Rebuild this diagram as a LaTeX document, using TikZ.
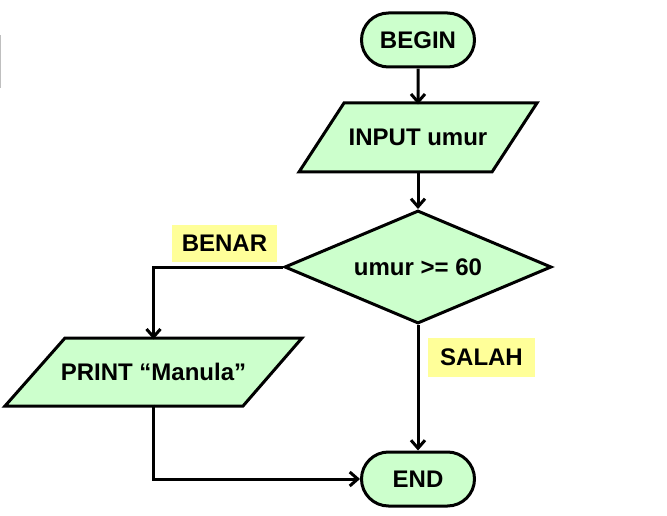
\documentclass[tikz,border=0pt]{standalone}
\usepackage{fontspec}
\setmainfont{Liberation Sans}
\usetikzlibrary{shapes.geometric,shapes.misc,arrows.meta}
\definecolor{boxgreen}{HTML}{CCFFCC}
\definecolor{labelyellow}{HTML}{FFFF99}
\begin{document}
\begin{tikzpicture}[x=1pt,y=-1pt,
  txt/.style={font=\fontsize{24}{26}\selectfont\bfseries,inner sep=0pt},
  base/.style={txt,draw=black,line width=3pt,fill=boxgreen,line join=miter},
  term/.style={base,rounded rectangle,minimum width=113pt,minimum height=54pt},
  ioshape/.style={draw=black,line width=3pt,fill=boxgreen,line join=miter},
  iobox/.style={txt,rectangle},
  decbox/.style={base,diamond,shape aspect=2.36,minimum width=267pt,minimum height=113pt},
  lbl/.style={txt,fill=labelyellow},
  arr/.style={line width=3pt,-{Straight Barb[length=8pt,width=14pt,line width=3pt]}}]
\useasboundingbox (0,0) rectangle (667,516);
\draw[gray!50,line width=1pt] (0.5,35) -- (0.5,88);
% parallelogram outlines
\draw[ioshape] (344,103) -- (537,103) -- (492,172) -- (299,172) -- cycle;
\draw[ioshape] (65,338) -- (302,338) -- (243,406) -- (5,406) -- cycle;
\node[term] (begin) at (418,40) {BEGIN};
\node[iobox,minimum width=193pt,minimum height=69pt] (input) at (418,137.5) {INPUT umur};
\node[decbox] (dec) at (418,267) {umur >= 60};
\node[iobox,minimum width=237pt,minimum height=68pt] (print) at (153.5,372) {PRINT “Manula”};
\node[term] (end) at (418,479) {END};
\node[lbl,minimum width=105pt,minimum height=37pt] (benar) at (224.5,243.5) {BENAR};
\node[lbl,minimum width=107pt,minimum height=39pt] (salah) at (481.5,357.5) {SALAH};
\draw[arr] (begin) -- ([yshift=-1.5pt]input.north);
\draw[arr] ([yshift=1.5pt]input.south) -- (dec);
\draw[arr] (dec.west) -| ([yshift=-1.5pt]print.north);
\draw[arr] (dec.south) -- (end.north);
\draw[arr] ([yshift=1.5pt]print.south) |- (end.west);
\end{tikzpicture}
\end{document}
